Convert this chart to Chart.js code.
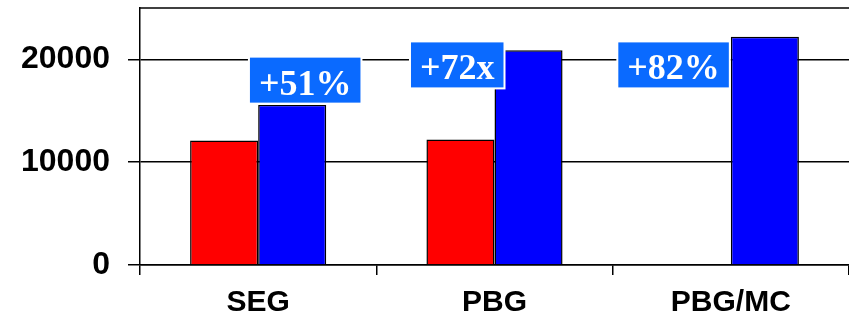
<!DOCTYPE html>
<html>
<head>
<meta charset="utf-8">
<script src="https://cdn.jsdelivr.net/npm/chart.js@4/dist/chart.umd.min.js"></script>
<style>
  html, body { margin: 0; padding: 0; background: #fff; }
  #wrap { width: 849px; height: 323px; }
</style>
</head>
<body>
<div id="wrap"><canvas id="c" width="849" height="323"></canvas></div>
<script>
const categories = ['SEG', 'PBG', 'PBG/MC'];
const baselineValues = [12100, 12200, null];
const improvedValues = [15600, 20900, 22200];
const yTickValues = [0, 10000, 20000];
const gainLabels = ['+51%', '+72x', '+82%'];

// Blue callout boxes with the gain, placed next to the improved bar
const gainBoxes = {
  id: 'gainBoxes',
  afterDatasetsDraw(chart) {
    const ctx = chart.ctx;
    const bars = chart.getDatasetMeta(1).data;
    const y = chart.scales.y;
    ctx.save();
    ctx.font = 'bold 36px "Liberation Serif", "Times New Roman", serif';
    gainLabels.forEach((txt, i) => {
      const bar = bars[i];
      const w = ctx.measureText(txt).width + 18;
      const h = 45;
      let left, top;
      if (i === 0) {
        left = bar.x + 13 - w / 2;
        top = bar.y - 2 - h;
      } else {
        const right = bar.x - bar.width / 2 + (i === 1 ? 9 : -2);
        left = right - w;
        top = y.getPixelForValue(20000) - 17;
      }
      ctx.fillStyle = '#ffffff';
      ctx.fillRect(left - 2, top - 2, w + 4, h + 4);
      ctx.fillStyle = '#0a6aff';
      ctx.fillRect(left, top, w, h);
      ctx.fillStyle = '#ffffff';
      ctx.textAlign = 'center';
      ctx.textBaseline = 'alphabetic';
      ctx.fillText(txt, left + w / 2, top + 37);
    });
    ctx.restore();
  }
};

// Line closing the top of the plot area
const topFrame = {
  id: 'topFrame',
  beforeDatasetsDraw(chart) {
    const { ctx, chartArea } = chart;
    ctx.save();
    ctx.strokeStyle = '#000';
    ctx.lineWidth = 1.5;
    ctx.beginPath();
    ctx.moveTo(chartArea.left, chartArea.top);
    ctx.lineTo(chartArea.right, chartArea.top);
    ctx.stroke();
    ctx.restore();
  }
};

new Chart(document.getElementById('c'), {
  type: 'bar',
  data: {
    labels: categories,
    datasets: [
      {
        data: baselineValues,
        backgroundColor: '#ff0000',
        borderColor: '#000',
        borderWidth: 1.5,
        borderSkipped: 'bottom',
        categoryPercentage: 0.576,
        barPercentage: 1
      },
      {
        data: improvedValues,
        backgroundColor: '#0000ff',
        borderColor: '#000',
        borderWidth: 1.5,
        borderSkipped: 'bottom',
        categoryPercentage: 0.576,
        barPercentage: 1
      }
    ]
  },
  options: {
    responsive: false,
    animation: false,
    layout: { padding: { top: 8, right: 0, left: 0, bottom: 0 } },
    plugins: {
      legend: { display: false },
      tooltip: { enabled: false }
    },
    scales: {
      x: {
        offset: true,
        grid: {
          offset: true,
          drawOnChartArea: false,
          drawTicks: true,
          tickLength: 10,
          color: '#000',
          lineWidth: 1.5
        },
        border: { color: '#000', width: 1.5 },
        ticks: {
          color: '#000',
          padding: 10,
          font: { family: '"Liberation Sans", Arial, sans-serif', weight: 'bold', size: 30 }
        },
        afterFit(scale) {
          scale.height = 58;
          scale.paddingLeft = 0;
          scale.paddingRight = 0;
        }
      },
      y: {
        min: 0,
        max: 25000,
        afterBuildTicks(scale) {
          scale.ticks = yTickValues.map(v => ({ value: v }));
        },
        grid: {
          color: '#000',
          lineWidth: 1.5,
          drawTicks: true,
          tickLength: 12
        },
        border: { color: '#000', width: 1.5 },
        ticks: {
          color: '#000',
          padding: 18,
          callback: v => String(v),
          font: { family: '"Liberation Sans", Arial, sans-serif', weight: 'bold', size: 32 }
        },
        afterFit(scale) {
          scale.width = 140;
          scale.paddingTop = 0;
          scale.paddingBottom = 0;
        }
      }
    }
  },
  plugins: [topFrame, gainBoxes]
});
</script>
</body>
</html>
